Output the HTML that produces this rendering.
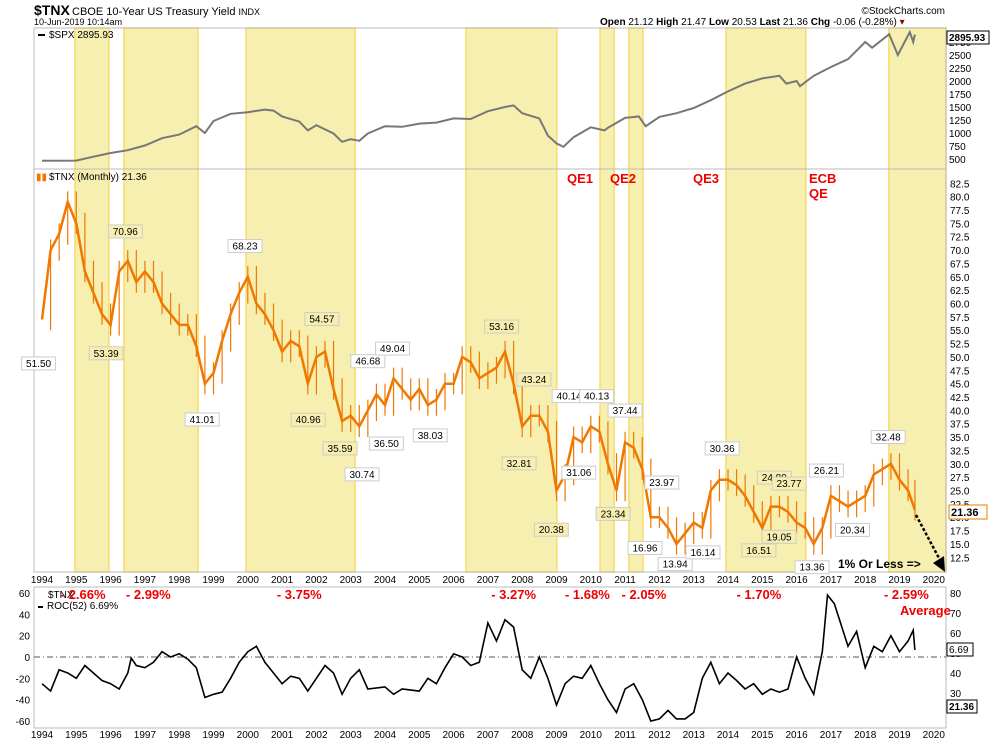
<!DOCTYPE html>
<html><head><meta charset="utf-8"><style>
body{margin:0;background:#fff;font-family:"Liberation Sans",sans-serif;}
svg text{font-family:"Liberation Sans",sans-serif;}
</style></head><body>
<svg id="c" width="990" height="744" viewBox="0 0 990 744" xmlns="http://www.w3.org/2000/svg">
<g>
<text x="34" y="15" font-size="14" font-weight="bold">$TNX</text>
<text x="72" y="15" font-size="11">CBOE 10-Year US Treasury Yield <tspan font-size="9">INDX</tspan></text>
<text x="34" y="25" font-size="9">10-Jun-2019 10:14am</text>
<text x="945" y="14" font-size="10" text-anchor="end">©StockCharts.com</text>
<text x="600" y="25" font-size="10"><tspan font-weight="bold">Open</tspan> 21.12  <tspan font-weight="bold">High</tspan> 21.47  <tspan font-weight="bold">Low</tspan> 20.53  <tspan font-weight="bold">Last</tspan> 21.36  <tspan font-weight="bold">Chg</tspan> -0.06 (-0.28%) <tspan fill="#900">▾</tspan></text>
</g>
<g id="shade"></g>
<rect x="34" y="28" width="912" height="141" fill="none" stroke="#bbb"/>
<rect x="34" y="169" width="912" height="403" fill="none" stroke="#bbb"/>
<rect x="34" y="587" width="912" height="141" fill="none" stroke="#bbb"/>
<g id="spxAxis"></g>
<g id="tnxAxis"></g>
<g id="rocAxis"></g>
<g id="xAxes"></g>
<path id="spxLine" fill="none" stroke="#777" stroke-width="2"/>
<g id="tnxBars"></g>
<path id="tnxLine" fill="none" stroke="#f07800" stroke-width="2.5"/>
<g id="annots"></g>
<line x1="34" y1="657" x2="946" y2="657" stroke="#555" stroke-dasharray="6,3,1,3"/>
<path id="rocLine" fill="none" stroke="#000" stroke-width="1.6"/>
<g>
<rect x="38" y="34" width="7" height="2" fill="#000"/>
<text x="49" y="38" font-size="10">$SPX 2895.93</text>
<text x="36" y="180" font-size="10" fill="#f07800">▮▮</text>
<text x="49" y="180" font-size="10">$TNX (Monthly) 21.36</text>
<text x="48" y="598" font-size="10">$TNX</text>
<rect x="38" y="606" width="5" height="2" fill="#000"/>
<text x="47" y="609" font-size="10">ROC(52) 6.69%</text>
</g>
<g fill="#e00" font-weight="bold">
<text x="567" y="183" font-size="13">QE1</text>
<text x="610" y="183" font-size="13">QE2</text>
<text x="693" y="183" font-size="13">QE3</text>
<text x="809" y="183" font-size="13">ECB</text>
<text x="809" y="198" font-size="13">QE</text>
</g>
<g id="redLbl" fill="#e00" font-size="13" font-weight="bold"></g>
<text x="900" y="615" font-size="13" font-weight="bold" fill="#e00">Average</text>
<text x="838" y="568" font-size="12" font-weight="bold">1% Or Less =&gt;</text>
<line x1="916" y1="515" x2="940" y2="560" stroke="#000" stroke-width="2.5" stroke-dasharray="3,2"/>
<polygon points="945,572 933,563 944,556" fill="#000"/>
<g>
<rect x="947" y="31" width="42" height="13" fill="#fff" stroke="#000"/>
<text x="949" y="41" font-size="10" font-weight="bold">2895.93</text>
<rect x="949" y="505" width="38" height="14" fill="#fff" stroke="#f07800"/>
<text x="951" y="516" font-size="11" font-weight="bold">21.36</text>
<rect x="947" y="643" width="26" height="13" fill="#fff" stroke="#000"/>
<text x="949" y="653" font-size="10">6.69</text>
<rect x="947" y="700" width="30" height="13" fill="#fff" stroke="#000"/>
<text x="949" y="710" font-size="10" font-weight="bold">21.36</text>
</g>
</svg>
<script>
const tnxYears=[1994,1994.25,1994.5,1994.75,1995,1995.25,1995.5,1995.75,1996,1996.25,1996.5,1996.75,1997,1997.25,1997.5,1997.75,1998,1998.25,1998.5,1998.75,1999,1999.25,1999.5,1999.75,2000,2000.25,2000.5,2000.75,2001,2001.25,2001.5,2001.75,2002,2002.25,2002.5,2002.75,2003,2003.25,2003.5,2003.75,2004,2004.25,2004.5,2004.75,2005,2005.25,2005.5,2005.75,2006,2006.25,2006.5,2006.75,2007,2007.25,2007.5,2007.75,2008,2008.25,2008.5,2008.75,2009,2009.25,2009.5,2009.75,2010,2010.25,2010.5,2010.75,2011,2011.25,2011.5,2011.75,2012,2012.25,2012.5,2012.75,2013,2013.25,2013.5,2013.75,2014,2014.25,2014.5,2014.75,2015,2015.25,2015.5,2015.75,2016,2016.25,2016.5,2016.75,2017,2017.25,2017.5,2017.75,2018,2018.25,2018.5,2018.75,2019,2019.25,2019.45];
const tnxValues=[57,70,73,79,75,66,62,58,56,66,68,64,66,64,60,58,56,56,52,45,47,53,58,62,65,60,58,55,51,53,52,45,50,51,44,38,39,37,40,43,41,46,44,42,44,41,42,45,45,50,49,46,47,48,51,45,37,39,39,36,25,28,35,34,37,36,30,25,34,33,29,20,20,18,15,17,19,18,25,27,27,26,24,21,18,22,22,21,19,18,15,18,24,23,22,23,24,28,29,30,27,25,21.4];
const spxYears=[1994,1995,1995.5,1996,1996.5,1997,1997.5,1998,1998.5,1998.75,1999,1999.5,2000,2000.5,2000.75,2001,2001.5,2001.75,2002,2002.5,2002.75,2003,2003.25,2003.5,2004,2004.5,2005,2005.5,2006,2006.5,2007,2007.5,2007.75,2008,2008.5,2008.75,2009,2009.2,2009.5,2010,2010.4,2010.5,2011,2011.4,2011.6,2012,2012.5,2013,2013.5,2014,2014.5,2015,2015.5,2015.7,2016,2016.1,2016.5,2017,2017.5,2018,2018.2,2018.7,2018.95,2019.3,2019.4,2019.45];
const spxValues=[465,470,545,615,670,760,900,970,1130,1000,1230,1370,1400,1450,1430,1320,1220,1050,1150,990,830,880,850,990,1130,1120,1180,1200,1280,1270,1420,1500,1530,1380,1280,950,800,735,920,1110,1050,1100,1290,1320,1130,1310,1380,1480,1630,1800,1950,2050,2100,1950,2000,1900,2100,2270,2420,2750,2640,2900,2500,2940,2750,2895];
const rocYears=[1994,1994.25,1994.5,1994.75,1995,1995.25,1995.5,1995.75,1996,1996.25,1996.5,1996.6,1996.75,1997,1997.25,1997.5,1997.75,1998,1998.25,1998.5,1998.75,1999,1999.25,1999.5,1999.75,2000,2000.25,2000.5,2000.75,2001,2001.25,2001.5,2001.75,2002,2002.25,2002.5,2002.75,2003,2003.25,2003.5,2004,2004.25,2004.5,2005,2005.25,2005.5,2005.75,2006,2006.25,2006.5,2006.75,2007,2007.25,2007.5,2007.75,2008,2008.25,2008.5,2008.75,2009,2009.25,2009.5,2009.75,2010,2010.25,2010.5,2010.75,2011,2011.25,2011.5,2011.75,2012,2012.25,2012.5,2012.75,2013,2013.25,2013.5,2013.75,2014,2014.25,2014.5,2014.75,2015,2015.25,2015.5,2015.75,2016,2016.25,2016.5,2016.75,2016.9,2017.1,2017.25,2017.5,2017.75,2018,2018.25,2018.5,2018.75,2019,2019.25,2019.4,2019.45];
const rocValues=[-25,-32,-12,-15,-20,-8,-15,-22,-25,-30,-15,-1,-8,-10,-5,5,0,3,-2,-10,-38,-35,-33,-20,-5,5,10,-5,-15,-25,-18,-20,-32,-20,-8,-15,-35,-20,-12,-30,-28,-35,-30,-32,-20,-25,-10,3,0,-8,-5,32,15,35,28,-12,-20,0,-20,-45,-25,-18,-20,-8,-25,-40,-52,-30,-25,-40,-60,-58,-50,-58,-58,-52,-20,-5,-25,-15,-22,-30,-25,-35,-30,-33,-30,0,-20,-35,5,58,50,35,10,24,-10,10,5,20,5,15,25,6.7];
const shadeStarts=[1994.96,1996.39,1999.95,2006.36,2010.27,2011.11,2013.94,2018.69];
const shadeEnds=[1995.95,1998.55,2003.13,2009.01,2010.68,2011.52,2016.27,2020.36];
const annotYears=[1993.9,1995.87,1996.43,1998.67,1999.92,2001.76,2002.16,2002.69,2003.33,2003.5,2004.22,2004.04,2005.32,2007.4,2008.34,2007.91,2008.85,2009.37,2009.65,2010.17,2010.65,2011.0,2011.58,2012.07,2012.46,2013.27,2013.83,2015.35,2015.78,2014.9,2015.49,2016.45,2016.87,2017.63,2018.67];
const annotValues=[51.50,53.39,70.96,41.01,68.23,40.96,54.57,35.59,30.74,46.68,49.04,36.50,38.03,53.16,43.24,32.81,20.38,40.14,31.06,40.13,23.34,37.44,16.96,23.97,13.94,16.14,30.36,24.89,23.77,16.51,19.05,13.36,26.21,20.34,32.48];
const annotUp=[0,0,1,0,1,0,1,0,0,1,1,0,0,1,1,0,0,1,0,1,0,1,0,1,0,0,1,1,1,0,0,0,1,0,1];
const declineLabels=["- 2.66%","- 2.99%","- 3.75%","- 3.27%","- 1.68%","- 2.05%","- 1.70%","- 2.59%"];
const declineYears=[1995.2,1997.1,2001.5,2007.75,2009.9,2011.55,2014.9,2019.2];
const yearTicks=[1994,1995,1996,1997,1998,1999,2000,2001,2002,2003,2004,2005,2006,2007,2008,2009,2010,2011,2012,2013,2014,2015,2016,2017,2018,2019,2020];
const spxTicks=[500,750,1000,1250,1500,1750,2000,2250,2500,2750];
const tnxTicks=[12.5,15,17.5,20,22.5,25,27.5,30,32.5,35,37.5,40,42.5,45,47.5,50,52.5,55,57.5,60,62.5,65,67.5,70,72.5,75,77.5,80,82.5];
const rocTicks=[-60,-40,-20,0,20,40,60];
const rocRightTicks=[30,40,50,60,70,80];

const NS="http://www.w3.org/2000/svg";
const X=y=>42+(y-1994)*34.3;
const Ys=v=>159-(v-500)/250*13;
const Yt=v=>183.3+(82.5-v)*5.343;
const Yr=v=>657-v*1.067;
const Yr2=v=>593+(80-v)*2.0;
function mk(tag,par,at,txt){const e=document.createElementNS(NS,tag);for(const k in at)e.setAttribute(k,at[k]);if(txt!=null)e.textContent=txt;document.getElementById(par).appendChild(e);return e;}
shadeStarts.forEach((s,i)=>{const a=X(s),b=Math.min(X(shadeEnds[i]),946);
const r=mk('rect','shade',{x:a,y:28,width:b-a,height:544,fill:'#f7efb0',stroke:'#f5dc6a','stroke-width':1.5});

});
const pth=(xs,vs,f)=>xs.map((x,i)=>(i?'L':'M')+X(x).toFixed(1)+','+f(vs[i]).toFixed(1)).join('');
document.getElementById('spxLine').setAttribute('d',pth(spxYears,spxValues,Ys));
document.getElementById('tnxLine').setAttribute('d',pth(tnxYears,tnxValues,Yt));
document.getElementById('rocLine').setAttribute('d',pth(rocYears,rocValues,Yr));
tnxValues.forEach((v,i)=>{if(!i)return;const p=tnxValues[i-1];const a=Math.max(v,p),b=Math.min(v,p);
const l=mk('line','tnxBars',{x1:X(tnxYears[i]),x2:X(tnxYears[i]),y1:Yt(a+2),y2:Yt(b-2),stroke:'#f07800','stroke-width':1.2});

});
spxTicks.forEach(v=>{const t=mk('text','spxAxis',{x:949,y:Ys(v)+4,'font-size':10},String(v));

});
tnxTicks.forEach(v=>{const t=mk('text','tnxAxis',{x:950,y:Yt(v)+4,'font-size':10},v.toFixed(1));

});
rocTicks.forEach(v=>{const t=mk('text','rocAxis',{x:30,y:Yr(v)+4,'font-size':10,'text-anchor':'end'},String(v));

});
rocRightTicks.forEach(v=>{const t=mk('text','rocAxis',{x:950,y:Yr2(v)+4,'font-size':10},String(v));

});
yearTicks.forEach(y=>{[583,738].forEach(yy=>{const t=mk('text','xAxes',{x:X(y),y:yy,'font-size':10,'text-anchor':'middle'},String(y));

});});
annotValues.forEach((v,i)=>{const x=X(annotYears[i]);const up=annotUp[i];const y=up?Yt(v)-14:Yt(v)+14;const s=v.toFixed(2);const w=s.length*6+4;
const inShade=shadeStarts.some((a,j)=>annotYears[i]>=a&&annotYears[i]<=shadeEnds[j]);
const r=mk('rect','annots',{x:x-w/2,y:y-6,width:w,height:13,fill:inShade?'#f7efb0':'#fff',stroke:'#ccc'});


const t=mk('text','annots',{x:x,y:y+4,'font-size':10,'text-anchor':'middle'},s);

});
declineLabels.forEach((s,i)=>{const t=mk('text','redLbl',{x:X(declineYears[i]),y:599,'text-anchor':'middle'},s);

});
</script>
</body></html>
